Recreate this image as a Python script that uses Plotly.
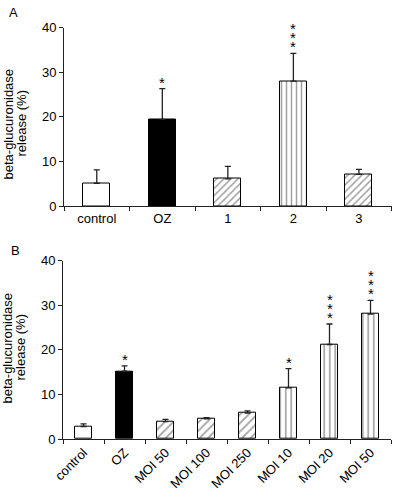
import plotly.graph_objects as go

# ---- data ----
cats_A = ["control", "OZ", "1", "2", "3"]
vals_A = [5.1, 19.4, 6.1, 28.0, 7.1]
err_A = [3.0, 6.9, 2.8, 6.2, 1.1]
stars_A = [0, 1, 0, 3, 0]
fill_A = ["white", "black", "white", "white", "white"]
shape_A = ["", "", "/", "|", "/"]

cats_B = ["control", "OZ", "MOI 50", "MOI 100", "MOI 250", "MOI 10", "MOI 20", "MOI 50"]
vals_B = [2.8, 15.2, 3.9, 4.5, 5.8, 11.5, 21.2, 28.0]
err_B = [0.6, 1.2, 0.5, 0.3, 0.5, 4.3, 4.6, 3.1]
stars_B = [0, 1, 0, 0, 0, 1, 3, 3]
fill_B = ["white", "black", "white", "white", "white", "white", "white", "white"]
shape_B = ["", "", "/", "/", "/", "|", "|", "|"]

yticks = [0, 10, 20, 30, 40]
ytitle_lines = ["beta-glucuronidase", "release (%)"]

FONT = "Liberation Sans, Arial, sans-serif"
W, H = 401, 501

# domains (paper fractions)
dom = {
    "A": dict(x=[64 / W, 391.7 / W], y=[(H - 206) / H, (H - 27.5) / H]),
    "B": dict(x=[63 / W, 391 / W], y=[(H - 439) / H, (H - 260.7) / H]),
}

fig = go.Figure()


def add_panel(vals, errs, fills, shapes, xa, ya, psize):
    xs = list(range(len(vals)))
    fig.add_trace(go.Bar(
        x=xs, y=vals, width=0.41,
        xaxis=xa, yaxis=ya,
        marker=dict(
            color=fills,
            line=dict(color="black", width=1),
            pattern=dict(shape=shapes, fgcolor="black", bgcolor="white",
                         size=psize, solidity=0.3),
        ),
        error_y=dict(type="data", symmetric=False, array=errs,
                     arrayminus=[0] * len(errs), color="#222",
                     thickness=1.3, width=3),
        showlegend=False,
        hoverinfo="skip",
    ))


add_panel(vals_A, err_A, fill_A, shape_A, "x", "y", [5, 5, 5, 5, 5])
add_panel(vals_B, err_B, fill_B, shape_B, "x2", "y2", [6, 6, 6, 6, 6, 5.5, 5.5, 5.5])

annotations = []


def add_stars(vals, errs, stars, xref, yref, step):
    for i, (v, e, n) in enumerate(zip(vals, errs, stars)):
        for k in range(n):
            annotations.append(dict(
                x=i, y=v + e, xref=xref, yref=yref, text="*",
                showarrow=False, yanchor="bottom", xanchor="center",
                yshift=-4 + k * step,
                font=dict(family=FONT, size=15, color="black"),
            ))


add_stars(vals_A, err_A, stars_A, "x", "y", 9.3)
add_stars(vals_B, err_B, stars_B, "x2", "y2", 9)

# y-axis titles (two rotated lines each)
for yc in (124, 348):
    for line, xc in zip(ytitle_lines, (7.5, 20.5)):
        annotations.append(dict(x=xc / W, y=(H - yc) / H, xref="paper", yref="paper",
                                xanchor="center", yanchor="middle",
                                text=line, textangle=-90, showarrow=False,
                                font=dict(family=FONT, size=13, color="black")))
# panel letters
annotations.append(dict(x=13 / W, y=(H - 12.5) / H, xref="paper", yref="paper",
                        xanchor="center", yanchor="middle",
                        text="A", showarrow=False,
                        font=dict(family=FONT, size=13, color="black")))
annotations.append(dict(x=15.5 / W, y=(H - 250) / H, xref="paper", yref="paper",
                        xanchor="center", yanchor="middle",
                        text="B", showarrow=False,
                        font=dict(family=FONT, size=13, color="black")))

axis_common = dict(showgrid=False, zeroline=False, showline=True,
                   linecolor="#222", linewidth=1, automargin=False,
                   tickfont=dict(family=FONT, size=13, color="black"))


def xaxis_cfg(n, d, angle):
    return dict(axis_common, domain=d, range=[-0.5, n - 0.5],
                tickmode="array", tickvals=list(range(n)), ticks="",
                tickangle=angle,
                minor=dict(tickmode="array",
                           tickvals=[i - 0.5 for i in range(n + 1)],
                           ticks="outside", ticklen=4, tickcolor="#222",
                           tickwidth=1, showgrid=False))


xa = xaxis_cfg(len(cats_A), dom["A"]["x"], 0)
xa["ticktext"] = cats_A
xb = xaxis_cfg(len(cats_B), dom["B"]["x"], -45)
xb["ticktext"] = cats_B
xa["anchor"] = "y"
xb["anchor"] = "y2"


def yaxis_cfg(d, anchor):
    return dict(axis_common, domain=d, range=[0, 40], tickmode="array",
                tickvals=yticks, ticks="outside", ticklen=4, tickcolor="#222",
                anchor=anchor)


fig.update_layout(
    width=W, height=H,
    margin=dict(l=0, r=0, t=0, b=0, autoexpand=False),
    paper_bgcolor="white", plot_bgcolor="white",
    xaxis=xa, xaxis2=xb,
    yaxis=yaxis_cfg(dom["A"]["y"], "x"),
    yaxis2=yaxis_cfg(dom["B"]["y"], "x2"),
    annotations=annotations,
    bargap=0,
)

fig.write_html("out.html", config={"displayModeBar": False},
               post_script="document.body.style.margin='0';document.body.style.overflow='hidden';")
